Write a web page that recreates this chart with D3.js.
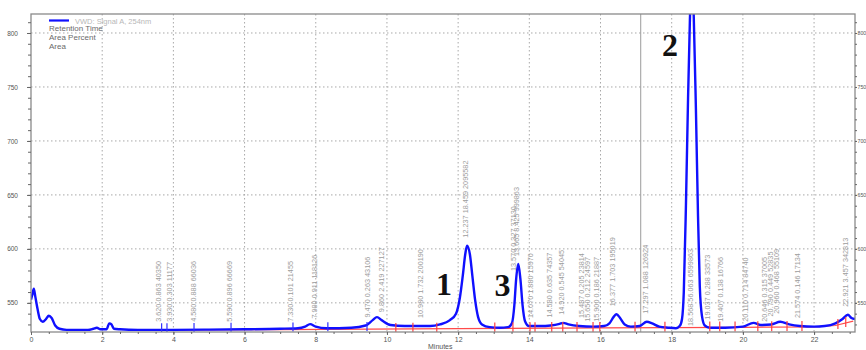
<!DOCTYPE html>
<html>
<head>
<meta charset="utf-8">
<script src="https://cdn.jsdelivr.net/npm/d3@7"></script>
<style>
  body { margin: 0; background: #fff; }
  svg { display: block; font-family: "Liberation Sans", Arial, sans-serif; }
</style>
</head>
<body>
<svg id="chart" width="866" height="350"></svg>
<script>
// VWD signal A, 254 nm — detector trace (minutes, mAU)
const retentionMin = [
  0, 0.04, 0.08, 0.12, 0.18, 0.25, 0.33, 0.42, 0.5, 0.58, 0.68, 0.8, 1.0,
  1.6, 1.75, 1.85, 1.95, 2.12, 2.2, 2.26, 2.33, 2.5, 3.0, 4.0, 5.0, 6.0, 7.0,
  7.5, 7.7, 7.84, 8.0, 8.3, 9.0, 9.4, 9.6, 9.72, 9.85, 10.1, 10.5, 11.0,
  11.21, 11.49, 11.77, 11.94, 12.05, 12.13, 12.2, 12.25, 12.33, 12.4, 12.48,
  12.56, 12.67, 12.89, 13.17, 13.4, 13.51, 13.58, 13.63, 13.69, 13.75, 13.81,
  13.88, 13.99, 14.3, 14.6, 14.85, 14.95, 15.1, 15.4, 15.8, 16.1, 16.25,
  16.37, 16.45, 16.55, 16.68, 16.85, 17.1, 17.3, 17.45, 17.65, 17.9, 18.12,
  18.23, 18.29, 18.34, 18.4, 18.46, 18.51, 18.54, 18.58, 18.62, 18.68, 18.74,
  18.79, 18.85, 18.93, 19.07, 19.5, 20.0, 20.3, 20.5, 20.8, 21.05, 21.3,
  21.6, 22.0, 22.3, 22.6, 22.8, 22.95, 23.05, 23.15
];
const signalMAU = [
  553, 558, 563, 556, 545, 535, 532.5, 535, 538, 536, 529, 526, 525,
  525, 526, 527, 525.5, 525.5, 531, 530, 526, 525.5, 525, 525, 525.2, 525.5, 526,
  526.5, 528, 530.3, 528, 526.5, 527, 529, 534, 536.8, 534, 529.5, 528.5, 528.5,
  528.5, 530, 534, 540, 555, 575, 595, 603, 595, 575, 552,
  537, 530, 527.5, 527, 527.5, 531, 548, 572, 586, 572, 548,
  533, 528.5, 528.5, 529, 530.5, 531.5, 530, 528.5, 528, 528.5, 531,
  537, 539.5, 536, 530, 528, 528.5, 532.5, 531, 528, 527, 526.5,
  528.7, 535, 560, 640, 740, 810, 840, 845, 815, 730, 630,
  565, 538, 529, 527, 527, 528, 531.5, 529.5, 530, 532.5, 530,
  528.5, 528, 528.5, 531, 535, 539, 536, 535
];

// Integration baseline
const baselineMin = [3.15, 7.0, 12.0, 16.0, 20.0, 22.0, 22.6, 23.1];
const baselineMAU = [524.6, 525.2, 526.2, 526.8, 527.3, 527.8, 529, 533];

// Peak table: retention time, area %, area
const peakRT = [3.62, 3.93, 4.58, 5.59, 7.33, 7.98, 9.47, 9.86, 10.98, 12.237,
  13.57, 13.665, 14.07, 14.58, 14.92, 15.487, 15.65, 15.9, 16.377, 17.297,
  18.568, 19.037, 19.407, 20.11, 20.646, 20.79, 20.96, 21.574, 22.921];
const peakAreaPct = [0.863, 0.303, 0.888, 0.896, 0.101, 0.911, 0.263, 2.419, 1.732, 18.459,
  0.327, 8.425, 1.880, 0.635, 0.545, 0.205, 0.212, 0.186, 1.703, 1.088,
  56.063, 0.288, 0.138, 0.714, 0.315, 0.449, 0.468, 0.146, 3.457];
const peakArea = [40350, 11177, 66036, 66669, 21455, 118126, 43106, 227127, 200190, 2095582,
  37130, 999863, 15970, 74357, 54045, 23814, 24597, 21887, 195019, 126924,
  6599863, 33573, 16766, 84740, 37005, 52835, 55109, 17134, 342813];

// Integration event marks
const apexMarkMin = [3.67, 3.82, 4.58, 5.62, 7.36, 8.34, 9.44];
const boundaryMarkMin = [10.25, 10.73, 11.4, 13.03, 13.54, 14.02, 14.16, 14.63, 14.94,
  15.34, 15.79, 15.98, 16.97, 17.81, 19.07, 19.35, 19.78, 20.42, 20.81, 21.24,
  21.66, 22.67, 22.89];

const xTicks = [0, 2, 4, 6, 8, 10, 12, 14, 16, 18, 20, 22];
const yTicks = [550, 600, 650, 700, 750, 800];
const eventMin = 17.13;

// Numbered compounds
const compoundNo = ["1", "3", "2"];
const compoundRT = [11.6, 13.25, 17.95];
const compoundMAU = [557.5, 556, 779];

const svg = d3.select("#chart");
const x = d3.scaleLinear().domain([0, 23.15]).range([31, 855]);
const y = d3.scaleLinear().domain([523, 817.6]).range([332, 14]);
const [x0, x1] = x.range();
const [yB, yT] = y.range();

svg.append("defs").append("clipPath").attr("id", "plotClip")
  .append("rect").attr("x", x0).attr("y", yT).attr("width", x1 - x0).attr("height", yB - yT);

// grid
const grid = svg.append("g").attr("stroke", "#a8a8a8").attr("stroke-width", 1).attr("stroke-dasharray", "1.5,2.5");
grid.selectAll("line.h").data(yTicks).join("line")
  .attr("x1", x0).attr("x2", x1).attr("y1", d => y(d)).attr("y2", d => y(d));
grid.selectAll("line.v").data(xTicks.filter(d => d > 0)).join("line")
  .attr("x1", d => x(d)).attr("x2", d => x(d)).attr("y1", yT).attr("y2", yB);

// timetable event line
svg.append("line").attr("x1", x(eventMin)).attr("x2", x(eventMin))
  .attr("y1", yT).attr("y2", yB).attr("stroke", "#9a9a9a").attr("stroke-width", 1);

// peak annotations (rotated)
const traceTop = t => {
  let m = -Infinity;
  retentionMin.forEach((r, i) => { if (Math.abs(r - t) <= 0.09) m = Math.max(m, signalMAU[i]); });
  if (m === -Infinity) m = d3.min(signalMAU);
  return m;
};
const ann = svg.append("g").attr("fill", "#9c9c9c").attr("font-size", 7.3);
peakRT.forEach((t, i) => {
  const top = traceTop(t);
  const by = top > y.domain()[1] ? 326 : Math.min(326, y(top) - 8);
  ann.append("text")
    .attr("transform", `translate(${x(t) - 1},${by}) rotate(-90)`)
    .attr("dy", "0.35em")
    .text(`${t.toFixed(3)} ${peakAreaPct[i].toFixed(3)} ${peakArea[i]}`);
});

// baseline
const plot = svg.append("g").attr("clip-path", "url(#plotClip)");
plot.append("path")
  .datum(baselineMin.map((t, i) => [t, baselineMAU[i]]))
  .attr("fill", "none").attr("stroke", "#ff4a4a").attr("stroke-width", 1.2)
  .attr("d", d3.line().x(d => x(d[0])).y(d => y(d[1])));

// trace
plot.append("path")
  .datum(retentionMin.map((t, i) => [t, signalMAU[i]]))
  .attr("fill", "none").attr("stroke", "#1010ff").attr("stroke-width", 2.4)
  .attr("stroke-linejoin", "round")
  .attr("d", d3.line().curve(d3.curveMonotoneX).x(d => x(d[0])).y(d => y(d[1])));

// integration marks
const baseAt = t => {
  const i = d3.bisectLeft(baselineMin, t);
  if (i <= 0) return baselineMAU[0];
  if (i >= baselineMin.length) return baselineMAU[baselineMAU.length - 1];
  const f = (t - baselineMin[i - 1]) / (baselineMin[i] - baselineMin[i - 1]);
  return baselineMAU[i - 1] + f * (baselineMAU[i] - baselineMAU[i - 1]);
};
plot.selectAll("line.apex").data(apexMarkMin).join("line")
  .attr("x1", d => x(d)).attr("x2", d => x(d))
  .attr("y1", d => y(baseAt(d)) - 7).attr("y2", d => y(baseAt(d)) + 2)
  .attr("stroke", "#3030ff").attr("stroke-width", 1.2);
plot.selectAll("line.bnd").data(boundaryMarkMin).join("line")
  .attr("x1", d => x(d)).attr("x2", d => x(d))
  .attr("y1", d => y(baseAt(d)) - 6).attr("y2", d => y(baseAt(d)) + 4)
  .attr("stroke", "#ff4040").attr("stroke-width", 1.2);

// frame
svg.append("rect").attr("x", x0).attr("y", yT).attr("width", x1 - x0).attr("height", yB - yT)
  .attr("fill", "none").attr("stroke", "#8a8a8a").attr("stroke-width", 1.3);

// axes
const styleAxis = g => {
  g.select(".domain").remove();
  g.selectAll(".tick line").attr("stroke", "#666");
  g.selectAll(".tick text").attr("fill", "#555").attr("font-family", "\"Liberation Sans\", Arial, sans-serif");
};
const minorY = d3.range(530, 818, 10);
const minorX = d3.range(0, 23.2, 0.5);

svg.append("g").attr("transform", `translate(${x0},0)`)
  .call(d3.axisLeft(y).tickValues(minorY).tickSize(3).tickFormat("")).call(styleAxis);
svg.append("g").attr("transform", `translate(${x0},0)`)
  .call(d3.axisLeft(y).tickValues(yTicks).tickSize(4).tickPadding(9).tickFormat(d3.format("d")))
  .call(styleAxis).selectAll("text").attr("font-size", 6.5);

svg.append("g").attr("transform", `translate(${x1},0)`)
  .call(d3.axisRight(y).tickValues(minorY).tickSize(2).tickFormat("")).call(styleAxis);
svg.append("g").attr("transform", `translate(${x1},0)`)
  .call(d3.axisRight(y).tickValues(yTicks).tickSize(2).tickPadding(0.5).tickFormat(d3.format("d")))
  .call(styleAxis).selectAll("text").attr("font-size", 5.2);

svg.append("g").attr("transform", `translate(0,${yB})`)
  .call(d3.axisBottom(x).tickValues(minorX).tickSize(2).tickFormat("")).call(styleAxis);
svg.append("g").attr("transform", `translate(0,${yB})`)
  .call(d3.axisBottom(x).tickValues(xTicks).tickSize(3).tickPadding(2).tickFormat(d3.format("d")))
  .call(styleAxis).selectAll("text").attr("font-size", 7);

svg.append("text").attr("x", 428).attr("y", 349).attr("font-size", 7).attr("fill", "#555").text("Minutes");

// legend
const lg = svg.append("g");
lg.append("line").attr("x1", 49).attr("x2", 69).attr("y1", 20.5).attr("y2", 20.5)
  .attr("stroke", "#1010ff").attr("stroke-width", 2.2);
lg.append("text").attr("x", 75).attr("y", 23.5).attr("font-size", 7.5).attr("fill", "#b8b8b8").text("VWD: Signal A, 254nm");
["Retention Time", "Area Percent", "Area"].forEach((s, i) => {
  lg.append("text").attr("x", 49).attr("y", 31 + i * 9).attr("font-size", 8).attr("fill", "#6a6a6a").text(s);
});

// compound numbers
svg.selectAll("text.cmp").data(compoundNo).join("text")
  .attr("x", (d, i) => x(compoundRT[i])).attr("y", (d, i) => y(compoundMAU[i]))
  .attr("text-anchor", "middle")
  .attr("font-family", "\"Liberation Serif\", \"Times New Roman\", serif")
  .attr("font-weight", "bold").attr("font-size", 32).attr("fill", "#111")
  .text(d => d);
</script>
</body>
</html>
